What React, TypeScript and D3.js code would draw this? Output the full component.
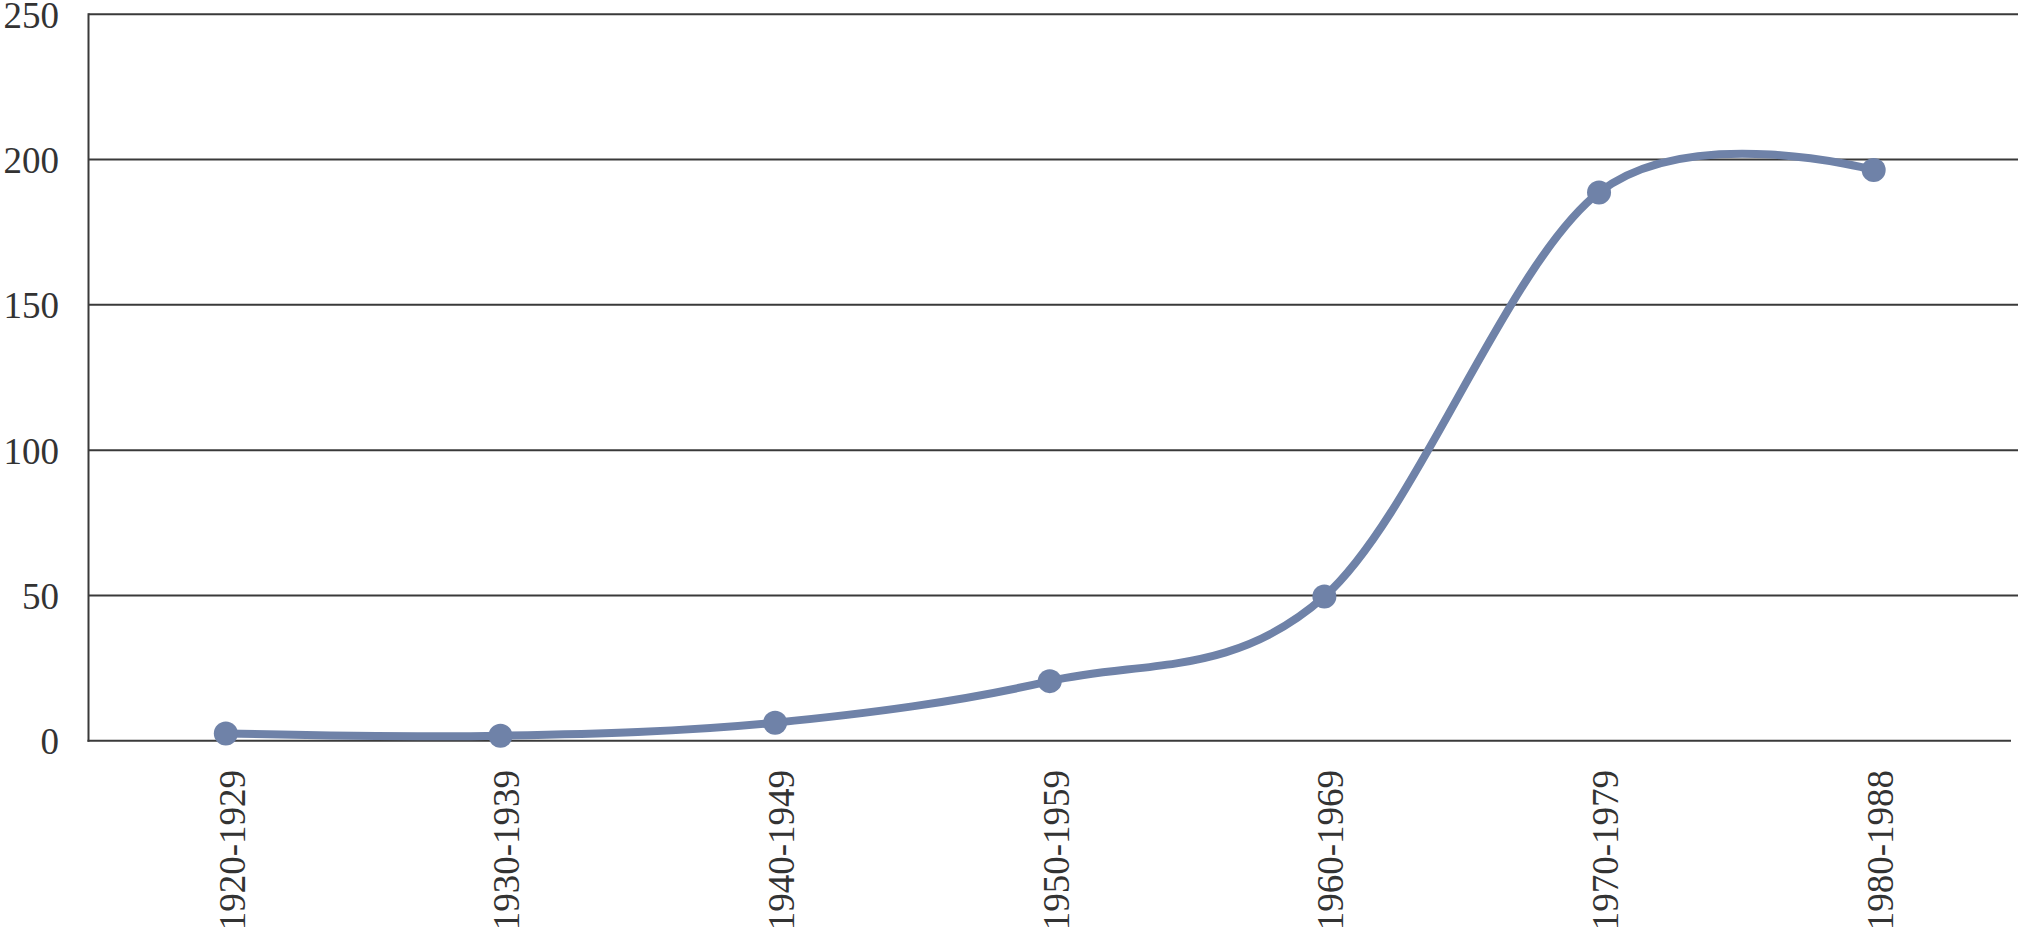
import React from "react";
import * as d3 from "d3";

const categories = ["1920-1929", "1930-1939", "1940-1949", "1950-1959", "1960-1969", "1970-1979", "1980-1988"];
const values = [2.5, 1.7, 6.2, 20.5, 49.6, 188.7, 196.4];
const yTicks = [0, 50, 100, 150, 200, 250];

const W = 2019;
const H = 930;
const left = 88.5;
const axisRight = 2011;
const gridRight = 2018;
const top = 14.3;
const bottom = 740.7;
const font = "'Liberation Serif', 'DejaVu Serif', serif";
const lineColor = "#6f82a8";
const axisColor = "#3a3a3a";

export default function App() {
  const x = d3.scaleBand<string>().domain(categories).range([left, axisRight]).padding(0);
  const cx = (c: string) => (x(c) as number) + x.bandwidth() / 2;
  const y = d3.scaleLinear().domain([0, 250]).range([bottom, top]);
  const pts: [number, number][] = categories.map((c, i) => [cx(c), y(values[i])]);
  const path = d3.line().curve(d3.curveCardinal.tension(0))(pts) as string;

  return (
    <svg width={W} height={H} style={{ position: "absolute", left: 0, top: 0, background: "#fff" }}>
      {yTicks.filter((t) => t > 0).map((t) => (
        <line key={"g" + t} x1={left} x2={gridRight} y1={y(t)} y2={y(t)} stroke={axisColor} strokeWidth={2} />
      ))}
      <line x1={left} x2={left} y1={top - 1} y2={bottom + 1} stroke={axisColor} strokeWidth={2} />
      <line x1={left - 1} x2={axisRight} y1={bottom} y2={bottom} stroke={axisColor} strokeWidth={2} />
      {yTicks.map((t) => (
        <text key={"t" + t} x={59} y={y(t) + 1} textAnchor="end" dominantBaseline="central" fontFamily={font} fontSize={37} fill="#333">
          {t}
        </text>
      ))}
      {categories.map((c) => (
        <text key={c} transform={`translate(${cx(c) + 19},770) rotate(-90)`} textAnchor="end" fontFamily={font} fontSize={37} fill="#333">
          {c}
        </text>
      ))}
      <path d={path} fill="none" stroke={lineColor} strokeWidth={8} />
      {pts.map((p, i) => (
        <circle key={i} cx={p[0]} cy={p[1]} r={12} fill={lineColor} />
      ))}
    </svg>
  );
}
